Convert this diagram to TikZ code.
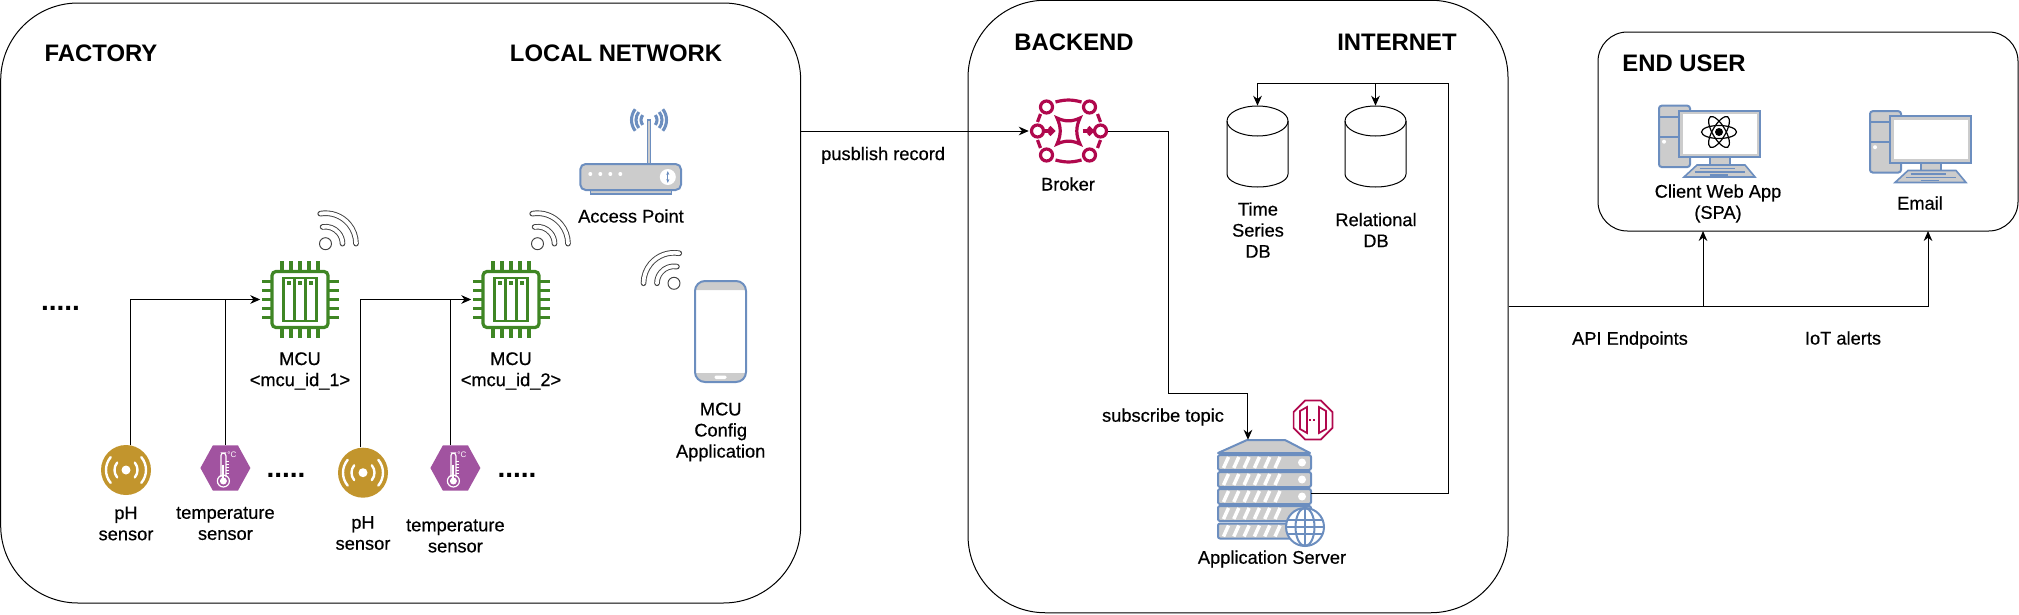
\documentclass[tikz,border=0pt]{standalone}
\usepackage{fontspec}
\setmainfont{Liberation Sans}
\newfontfamily\lblfont[RawFeature={embolden=0.5}]{Liberation Sans}
\usepackage{tikz}
\usetikzlibrary{arrows.meta, positioning, shapes.geometric}
\definecolor{chipgreen}{HTML}{3F8624}
\definecolor{iconblue}{HTML}{6C8EBF}
\definecolor{icongray}{HTML}{CCCCCC}
\definecolor{awsred}{HTML}{B0084D}
\definecolor{sensorgold}{HTML}{C2952D}
\definecolor{sensorpurple}{HTML}{A153A0}
\definecolor{wifigray}{HTML}{404040}

\tikzset{
  chip/.pic={
    \begin{scope}[chipgreen, line width=2.4pt]
      \foreach \p in {-18,-9,0,9,18} {
        \draw[line width=2.3pt] (\p,28) -- (\p,38.5) (\p,-28) -- (\p,-38.5);
        \draw[line width=2.3pt] (28,\p) -- (38.5,\p) (-28,\p) -- (-38.5,\p);
      }
      \draw[fill=white, rounded corners=3pt] (-28,-28) rectangle (28,28);
      \draw[line width=2.1pt] (-16.5,-21.5) rectangle (16.5,21.5) (-5.5,-21.5) -- (-5.5,21.5) (5.5,-21.5) -- (5.5,21.5);
      \foreach \p in {-11,0,11} \fill (\p-1.7,15) rectangle (\p+1.7,18.4);
    \end{scope}
  },
  wifi/.pic={
    \foreach \r in {30.5,17} {
      \draw[wifigray, line width=4.2pt, line cap=round] (100:\r) arc[start angle=100, end angle=0, radius=\r];
      \draw[white, line width=2.8pt, line cap=round] (100:\r) arc[start angle=100, end angle=0, radius=\r];
    }
    \draw[wifigray, fill=white, line width=.7pt] (0,0) circle (6);
  },
  phsensor/.pic={
    \fill[sensorgold] (0,0) circle (25);
    \fill[white] (0,0) circle (4.5);
    \foreach \a/\r in {0/11.5,180/11.5,0/20,180/20}
      \draw[white, line width=1.8pt, line cap=round] (\a-40:\r) arc[start angle=\a-40, end angle=\a+40, radius=\r];
  },
  tempsensor/.pic={
    \fill[sensorpurple] (-25,0) -- (-12.5,22.7) -- (12.5,22.7) -- (25,0) -- (12.5,-22.7) -- (-12.5,-22.7) -- cycle;
    \draw[white, line width=.9pt, rounded corners=2pt] (-4.5,-9) -- (-4.5,15) -- (.5,15) -- (.5,-9);
    \draw[white, line width=.9pt] (-2,-13) circle (6);
    \fill[white] (-2,-13) circle (3.5);
    \draw[white, line width=1.4pt] (-2,-13) -- (-2,3);
    \foreach \y in {-5,-2,1,4,7} \draw[white, line width=.6pt] (.5,\y) -- (4,\y);
    \node[white, font=\fontsize{6}{6}\selectfont, inner sep=0pt] (degc) at (6.5,13.5) {°C};
  },
  accesspoint/.pic={
    \begin{scope}[iconblue, line width=1.5pt]
      \draw[fill=icongray, line width=1.1pt] (-40,-17) rectangle (41,-12);
      \draw[fill=icongray, line width=1pt] (17.5,12) rectangle (20.5,57);
      \draw[fill=icongray, rounded corners=4pt] (-50,-13) rectangle (50.7,13);
      \foreach \a in {0,180} \foreach \r in {8,13,17.5}
        \draw[line width=2.3pt] ([shift={(18.7,57)}]\a-38:\r) arc[start angle=\a-38, end angle=\a+38, radius=\r];
      \foreach \x in {-40,-30,-20,-10} \fill[white] (\x,3) circle (2);
      \fill[white] (37.5,0) circle (8);
      \draw[line width=1pt, {Stealth[length=3pt]}-{Stealth[length=3pt]}] (37.5,-6) -- (37.5,6);
    \end{scope}
  },
  phone/.pic={
    \begin{scope}
      \clip[rounded corners=7.5pt] (-25.5,-50.5) rectangle (25.5,50.5);
      \fill[icongray] (-25.5,41.5) rectangle (25.5,50.5) (-25.5,-41.5) rectangle (25.5,-50.5);
    \end{scope}
    \draw[iconblue, line width=1.5pt, rounded corners=7.5pt] (-25.5,-50.5) rectangle (25.5,50.5);
    \fill[white, rounded corners=1pt] (-6,-47.5) rectangle (6,-44);
  },
  broker/.pic={
    \begin{scope}[awsred, line width=2.4pt]
      \foreach \x/\y in {-22/24,21/24,-31/0,32/0,-22/-24,21/-24} \draw (\x,\y) circle (6);
      \draw (-13,29) to[bend left=15] (13,29) (-13,-29) to[bend right=15] (13,-29);
      \draw (-28,17) -- (-31,9) (29,17) -- (32,9) (-28,-17) -- (-31,-9) (29,-17) -- (32,-9);
      \draw (-11.5,13) to[bend right=25] (11.5,13) to[bend right=25] (11.5,-13) to[bend right=25] (-11.5,-13) to[bend right=25] cycle;
      \draw[-{Straight Barb[length=3pt]}] (-25,0) -- (-13,0);
      \draw[-{Straight Barb[length=3pt]}] (14,0) -- (26,0);
    \end{scope}
  },
  firewall/.pic={
    \begin{scope}[awsred, line width=1.3pt]
      \draw (22.5:21) -- (67.5:21) -- (112.5:21) -- (157.5:21) -- (202.5:21) -- (247.5:21) -- (292.5:21) -- (337.5:21) -- cycle;
      \draw (-6,13) -- (-13,9) -- (-13,-9) -- (-6,-13) -- cycle;
      \draw (6,13) -- (13,9) -- (13,-9) -- (6,-13) -- cycle;
      \draw[dotted] (-4,0) -- (4,0);
    \end{scope}
  },
  appserver/.pic={
    \begin{scope}[iconblue, line width=1.5pt]
      \draw[fill=icongray, line join=round] (-46.5,37) -- (-17.5,50) -- (20.5,50) -- (45.5,37) -- cycle;
      \foreach \y in {27.5,10.5,-6.5,-23.5,-41} {
        \draw[fill=icongray, rounded corners=1.5pt] (-46.5,\y-7.5) rectangle (46.5,\y+7.5);
        \foreach \i in {0,...,5} \draw[white, line width=2.6pt] (-41+\i*10.3,\y-5.5) -- (-36+\i*10.3,\y+5.5);
        \fill[white] (37.5,\y) circle (4);
      }
      \draw[fill=white] (40.5,-37) circle (19);
      \draw (40.5,-37) ellipse [x radius=9.5, y radius=19];
      \draw (40.5,-56) -- (40.5,-18) (21.5,-37) -- (59.5,-37);
      \draw (23.5,-30) -- (57.5,-30) (23.5,-44) -- (57.5,-44);
    \end{scope}
  },
  desktop/.pic={
    \begin{scope}[iconblue, line width=1.5pt]
      \draw[fill=icongray, rounded corners=2pt] (-60.5,-33) rectangle (-29.5,28.3);
      \draw (-60.5,17.3) -- (-29.5,17.3) (-60.5,-2.7) -- (-29.5,-2.7);
      \fill[white] (-55.5,-7.7) circle (2);
      \draw[fill=icongray] (-10,-31) rectangle (10,-23);
      \draw[fill=icongray] (-40.5,-23) rectangle (40.5,23.5);
      \fill[white] (-37,-19.5) rectangle (37,20);
      \draw[fill=icongray, line width=1.2pt] (-35.5,-43) -- (-22.5,-31) -- (25.5,-31) -- (35.5,-43) -- cycle;
      \draw[line width=1pt] (-20,-34.5) -- (15,-34.5) (-25,-38) -- (25,-38) (-10,-41) -- (8,-41);
    \end{scope}
  },
  reactlogo/.pic={
    \foreach \a in {0,60,120} \draw[line width=.9pt, rotate=\a] (0,0) ellipse [x radius=17.5, y radius=6.5];
    \fill (0,0) circle (4);
  },
  dbshape/.pic={
    \draw[line width=.75pt, fill=white] (-30.5,25.5) -- (-30.5,-27.5) arc[start angle=180, end angle=360, x radius=30.5, y radius=13] -- (30.5,25.5);
    \draw[line width=.75pt] (0,25.5) ellipse [x radius=30.5, y radius=15];
  },
}

\begin{document}
\begin{tikzpicture}[
  x=.75pt, y=.75pt,
  zonebox/.style 2 args={draw, line width=.75pt, inner sep=0pt, minimum width=#1*.75pt, minimum height=#2*.75pt},
  icon/.style 2 args={inner sep=0pt, minimum width=#1*.75pt, minimum height=#2*.75pt},
  lbl/.style={font=\lblfont\fontsize{13.7}{15.8}\selectfont, align=center, inner sep=0pt},
  zonetitle/.style={font=\fontsize{17.9}{20}\selectfont\bfseries, inner sep=0pt},
  morenodes/.style={font=\fontsize{21}{21}\selectfont\bfseries, inner sep=0pt, anchor=base},
  arr/.style={-{Stealth[length=7.5pt, width=6.5pt]}, line width=.75pt},
  link/.style={line width=.75pt},
]
\useasboundingbox (0,-614) rectangle (2019,0);

% Zones
\node[zonebox={800}{600}, rounded corners=58pt] (factory) at (400.7,-303) {};
\node[zonebox={540}{612.5}, rounded corners=58pt] (backend) at (1238,-306.5) {};
\node[zonebox={420}{199}, rounded corners=22pt] (enduser) at (1808,-131.5) {};
\node[zonetitle] (factorytitle) at (101,-53.5) {FACTORY};
\node[zonetitle] (localtitle) at (616,-53.5) {LOCAL NETWORK};
\node[zonetitle] (backendtitle) at (1074,-42.5) {BACKEND};
\node[zonetitle] (internettitle) at (1397,-42.5) {INTERNET};
\node[zonetitle] (endusertitle) at (1684,-63.5) {END USER};

% MCUs
\node[icon={79}{79}] (mcu1) at (300,-299.5) {};
\node[icon={79}{79}] (mcu2) at (511,-299.5) {};
\pic at (mcu1) {chip};
\pic at (mcu2) {chip};
\node[lbl] (mcu1lbl) at (300,-371) {MCU\\<mcu\_id\_1>};
\node[lbl] (mcu2lbl) at (511,-371) {MCU\\<mcu\_id\_2>};
\pic at (325.5,-243.7) {wifi};
\pic at (537.5,-243.7) {wifi};
\pic[xscale=-1] at (674,-283.3) {wifi};

% Sensors
\node[icon={50}{50}] (ph1) at (126,-470) {};
\node[icon={50}{45}] (temp1) at (225.4,-468) {};
\node[icon={50}{50}] (ph2) at (363,-472.7) {};
\node[icon={50}{45}] (temp2) at (455.4,-468) {};
\pic at (ph1) {phsensor};
\pic at (temp1) {tempsensor};
\pic at (ph2) {phsensor};
\pic at (temp2) {tempsensor};
\node[lbl] (ph1lbl) at (126,-523.5) {pH\\sensor};
\node[lbl] (temp1lbl) at (225.4,-523.5) {temperature\\sensor};
\node[lbl] (ph2lbl) at (363,-533) {pH\\sensor};
\node[lbl] (temp2lbl) at (455.4,-536) {temperature\\sensor};
\node[morenodes] (more1) at (60.5,-310) {.....};
\node[morenodes] (more2) at (286,-477.7) {.....};
\node[morenodes] (more3) at (517,-477.7) {.....};

% Sensor lines
\draw[arr] ([xshift=3.4pt]ph1.north) |- (mcu1.west);
\draw[link] (temp1.north) -- (temp1.north |- mcu1.west);
\draw[arr] ([xshift=-1.9pt]ph2.north) |- (mcu2.west);
\draw[link] ([xshift=-3.75pt]temp2.north) -- ([xshift=-3.75pt]temp2.north |- mcu2.west);

% Local network
\node[icon={101}{26}] (ap) at (630.3,-177) {};
\pic at (ap) {accesspoint};
\node[lbl] (aplbl) at (631,-216) {Access Point};
\node[icon={51}{101}] (phone) at (720.5,-331.5) {};
\pic at (phone) {phone};
\node[lbl] (phonelbl) at (720.7,-432) {MCU\\Config\\Application};

% Backend
\node[icon={79}{67}] (brk) at (1068.5,-131) {};
\pic at (brk) {broker};
\node[lbl] (brklbl) at (1068,-184) {Broker};
\node[icon={61}{81}] (tsdb) at (1257.5,-146.5) {};
\node[icon={61}{81}] (reldb) at (1375.5,-146.5) {};
\pic at (tsdb) {dbshape};
\pic at (reldb) {dbshape};
\node[lbl] (tsdblbl) at (1258,-230) {Time\\Series\\DB};
\node[lbl] (reldblbl) at (1376,-230) {Relational\\DB};
\node[icon={93}{106}] (appsrv) at (1264.5,-493) {};
\pic at (1264.5,-490) {appserver};
\pic at (1313,-420) {firewall};
\node[lbl] (appsrvlbl) at (1272,-559) {Application Server};
\coordinate (brkbend) at (1168,-393);
\coordinate (dbbend) at (1448,-83);

% Backend lines
\draw[arr] (factory.east |- brk.west) -- node[lbl, pos=.36, below=11.5pt] (publbl) {pusblish record} (brk.west);
\draw[arr] (brk.east) -| (brkbend) -| ([xshift=-12.4pt]appsrv.north);
\draw[arr] (appsrv.east) -| (dbbend) -| (tsdb.north);
\draw[arr] (reldb.north |- dbbend) -- (reldb.north);
\node[lbl] (sublbl) at (1163,-417) {subscribe topic};

% End user
\node[icon={122}{90}] (client) at (1719.5,-134) {};
\node[icon={122}{90}] (email) at (1930.5,-139.5) {};
\pic at (client) {desktop};
\pic at (1719,-132) {reactlogo};
\pic at (email) {desktop};
\node[lbl] (clientlbl) at (1718,-203.5) {Client Web App\\(SPA)};
\node[lbl] (emaillbl) at (1920,-203) {Email};
\coordinate (apiin) at (1703,-231);
\coordinate (alertin) at (1928,-231);

% End user lines
\draw[arr] (backend.east) -| (apiin);
\draw[arr] (backend.east) -| (alertin);
\node[lbl] (apilbl) at (1630,-340) {API Endpoints};
\node[lbl] (alertlbl) at (1843,-338) {IoT alerts};
\end{tikzpicture}
\end{document}
